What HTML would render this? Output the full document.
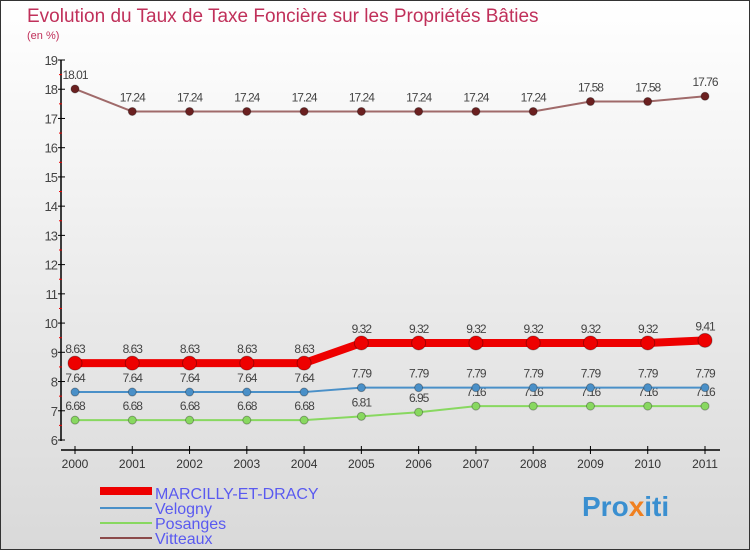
<!DOCTYPE html>
<html><head><meta charset="utf-8"><style>
body{margin:0;width:750px;height:550px;overflow:hidden;font-family:"Liberation Sans",sans-serif}
svg{display:block}
</style></head><body>
<svg id="c" width="750" height="550" xmlns="http://www.w3.org/2000/svg">
<defs><linearGradient id="bg" x1="0" y1="0" x2="0" y2="1"><stop offset="0" stop-color="#ffffff"/><stop offset="1" stop-color="#d9d9d9"/></linearGradient></defs>
<rect x="0.5" y="0.5" width="749" height="549" fill="url(#bg)" stroke="#333"/>
<text x="27" y="22" font-size="19" font-weight="normal" fill="#c0305a">Evolution du Taux de Taxe Foncière sur les Propriétés Bâties</text>
<text x="27" y="39" font-size="11" fill="#c0305a">(en %)</text>
<g id="axes"></g><g id="series"></g>
<g id="legend">
<rect x="100" y="487" width="52" height="8" fill="#ee0000"/>
<text x="155" y="499" font-size="16" fill="#5a5af0">MARCILLY-ET-DRACY</text>
<rect x="100" y="507" width="52" height="2" fill="#4a90c8"/>
<text x="155" y="514" font-size="16" fill="#5a5af0">Velogny</text>
<rect x="100" y="522" width="52" height="2" fill="#88d860"/>
<text x="155" y="529" font-size="16" fill="#5a5af0">Posanges</text>
<rect x="100" y="537" width="52" height="2" fill="#8b4a4a"/>
<text x="155" y="544" font-size="16" fill="#5a5af0">Vitteaux</text>
</g>
<text x="582" y="516" font-size="28" font-weight="bold" fill="#3a8fd0">Pro<tspan fill="#f08020">x</tspan>iti</text>
</svg>
<script>
const years=[2000,2001,2002,2003,2004,2005,2006,2007,2008,2009,2010,2011];
const yTicks=[6,7,8,9,10,11,12,13,14,15,16,17,18,19];
const marcilly=[8.63,8.63,8.63,8.63,8.63,9.32,9.32,9.32,9.32,9.32,9.32,9.41];
const velogny=[7.64,7.64,7.64,7.64,7.64,7.79,7.79,7.79,7.79,7.79,7.79,7.79];
const posanges=[6.68,6.68,6.68,6.68,6.68,6.81,6.95,7.16,7.16,7.16,7.16,7.16];
const vitteaux=[18.01,17.24,17.24,17.24,17.24,17.24,17.24,17.24,17.24,17.58,17.58,17.76];
const NS="http://www.w3.org/2000/svg";
const X=i=>75+i*(630/(years.length-1));
const Y=v=>440-(v-6)*(380/13);
function mk(t,a,p){const e=document.createElementNS(NS,t);for(const k in a)e.setAttribute(k,a[k]);p.appendChild(e);return e;}
const ax=document.getElementById('axes');
let l=mk('line',{x1:61,y1:Y(19),x2:61,y2:Y(6)+1,stroke:'#000','stroke-width':1.5},ax);


l=mk('line',{x1:61,y1:450,x2:720,y2:450,stroke:'#000','stroke-width':1.5},ax);


yTicks.forEach((v,i)=>{
 mk('line',{x1:58,y1:Y(v),x2:65,y2:Y(v),stroke:'#000'},ax);
 if(i<yTicks.length-1) mk('line',{x1:59,y1:Y(v+0.5),x2:62,y2:Y(v+0.5),stroke:'#e00'},ax);
 const t=mk('text',{x:57,y:Y(v)+5,'font-size':13,'text-anchor':'end',fill:'#444','letter-spacing':'-1'},ax);
 t.textContent=v;
 
 
});
years.forEach((y,i)=>{
 mk('line',{x1:X(i),y1:446,x2:X(i),y2:454,stroke:'#000'},ax);
 const t=mk('text',{x:X(i),y:468,'font-size':12,'text-anchor':'middle',fill:'#333'},ax);
 t.textContent=y;
 
 
});
const sg=document.getElementById('series');
function draw(name,data,color,pcolor,w,r){
 const g=mk('g',{},sg);
 
 
 const p=mk('polyline',{points:data.map((v,i)=>X(i)+','+Y(v)).join(' '),fill:'none',stroke:color,'stroke-width':w},g);
 
 
 data.forEach((v,i)=>{
  const c=mk('circle',{cx:X(i),cy:Y(v),r:r,fill:pcolor,stroke:'rgba(0,0,0,0.3)'},g);
  
  
  const t=mk('text',{x:X(i),y:Y(v)-10,'font-size':12,'text-anchor':'middle',fill:'#444','letter-spacing':'-1'},g);
  t.textContent=v.toFixed(2).replace(/0$/,'').replace(/\.$/,'');
  
  
 });
}
draw('vitteaux',vitteaux,'#a06a6a','#6b2020',2,4);
draw('posanges',posanges,'#88d860','#88d860',2,4);
draw('velogny',velogny,'#4a90c8','#4a90c8',2,4);
draw('marcilly',marcilly,'#ee0000','#ee0000',8,7);
</script>
</body></html>
